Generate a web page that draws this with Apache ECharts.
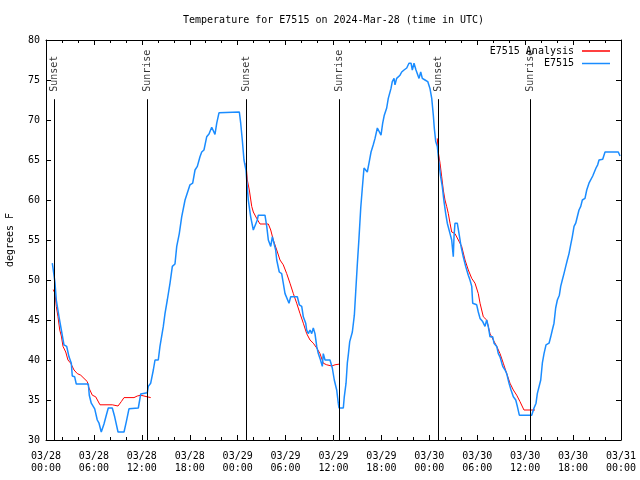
<!DOCTYPE html>
<html>
<head>
<meta charset="utf-8">
<script src="https://cdn.jsdelivr.net/npm/echarts@6/dist/echarts.min.js"></script>
<style>html,body{margin:0;padding:0;background:#fff}#c{width:640px;height:480px}</style>
</head>
<body>
<div id="c"></div>
<script>
// hours since 03/28 00:00 UTC, temperature in degrees F
const xTickLabels = ['03/28\n00:00','03/28\n06:00','03/28\n12:00','03/28\n18:00','03/29\n00:00','03/29\n06:00','03/29\n12:00','03/29\n18:00','03/30\n00:00','03/30\n06:00','03/30\n12:00','03/30\n18:00','03/31\n00:00'];
const sunEvents = [[1.04,'Sunset'],[12.68,'Sunrise'],[25.08,'Sunset'],[36.73,'Sunrise'],[49.12,'Sunset'],[60.64,'Sunrise']];

const observed = [
[0.79,52.1],[1.00,50.6],[1.13,49.6],[1.29,47.5],[1.63,45.4],[1.92,43.75],[2.25,41.9],[2.59,41.7],[2.88,40.4],[3.17,39.6],[3.29,38.0],[3.59,37.9],[3.79,37.0],[5.30,37.0],[5.42,35.6],[5.67,34.6],[6.10,33.9],[6.42,32.5],[6.64,32.1],[6.92,31.0],[7.26,32.0],[7.55,33.1],[7.80,34.0],[8.30,34.0],[8.60,32.9],[9.02,31.0],[9.77,31.0],[10.06,32.3],[10.39,33.9],[10.52,34.0],[11.56,34.0],[11.86,35.75],[12.06,35.9],[12.68,35.9],[12.81,36.7],[13.11,37.1],[13.44,38.75],[13.65,40.0],[14.06,40.0],[14.27,41.7],[14.69,44.2],[14.90,45.8],[15.19,47.5],[15.53,49.6],[15.82,51.7],[16.15,52.0],[16.37,54.2],[16.69,55.8],[16.99,57.9],[17.19,58.1],[17.41,60.0],[17.62,60.2],[18.03,61.9],[18.37,62.1],[18.66,63.75],[18.95,64.2],[19.28,65.4],[19.50,66.0],[19.78,66.25],[20.12,67.9],[20.41,68.25],[20.75,69.1],[20.95,69.0],[21.16,68.2],[21.38,69.6],[21.66,70.9],[21.79,71.0],[24.21,71.0],[24.38,69.6],[24.58,67.5],[24.79,65.0],[25.04,63.75],[25.13,62.5],[25.33,60.0],[25.63,57.9],[25.96,56.25],[26.17,56.1],[26.46,57.5],[26.58,58.1],[27.42,58.1],[27.64,56.7],[27.84,55.0],[28.14,54.2],[28.34,55.4],[28.59,55.2],[28.76,53.75],[28.89,52.5],[29.21,51.0],[29.51,50.8],[29.71,49.6],[29.93,48.3],[30.14,48.5],[30.43,47.1],[30.64,47.9],[31.47,47.9],[31.72,46.9],[32.02,46.7],[32.22,45.4],[32.52,44.6],[32.64,43.75],[32.85,43.3],[33.06,43.75],[33.27,43.3],[33.47,44.0],[33.68,43.3],[33.90,41.7],[34.10,40.8],[34.31,40.2],[34.60,39.2],[34.72,40.8],[34.94,40.0],[35.56,40.0],[35.85,39.0],[36.10,37.5],[36.40,36.25],[36.60,34.6],[36.69,34.0],[37.23,34.0],[37.35,35.4],[37.57,37.1],[37.73,39.6],[37.85,40.6],[38.03,42.3],[38.36,43.5],[38.61,45.6],[38.78,48.5],[38.98,51.9],[39.19,55.2],[39.41,59.0],[39.61,61.5],[39.82,64.0],[40.03,64.2],[40.23,63.5],[40.48,64.8],[40.70,66.0],[40.98,66.9],[41.20,67.7],[41.49,69.0],[41.70,69.2],[41.95,68.1],[42.16,69.6],[42.36,70.6],[42.66,71.5],[42.86,72.7],[43.20,73.95],[43.36,74.8],[43.58,75.2],[43.70,74.4],[43.91,75.2],[44.33,75.6],[44.54,76.0],[44.83,76.25],[45.17,76.5],[45.45,77.1],[45.71,77.1],[45.87,76.25],[46.08,77.1],[46.33,76.25],[46.54,76.0],[46.71,75.2],[46.92,76.0],[47.12,75.2],[47.46,75.0],[47.80,74.8],[48.08,73.95],[48.30,72.7],[48.50,70.6],[48.62,69.0],[48.80,67.3],[49.00,66.7],[49.21,64.6],[49.42,62.9],[49.62,61.7],[49.84,59.8],[50.05,58.3],[50.25,57.1],[50.59,55.8],[50.80,55.0],[51.00,52.9],[51.09,55.4],[51.21,57.1],[51.50,57.1],[51.75,55.6],[51.97,54.2],[52.25,52.9],[52.55,51.7],[52.88,50.6],[53.09,50.0],[53.31,49.2],[53.43,47.1],[53.93,46.9],[54.13,46.0],[54.35,45.2],[54.68,44.8],[54.97,44.2],[55.18,45.0],[55.38,44.2],[55.60,42.9],[55.94,42.9],[56.10,42.1],[56.44,41.7],[56.64,40.8],[56.85,40.4],[57.19,39.2],[57.48,38.75],[57.69,38.3],[57.98,37.1],[58.23,36.25],[58.52,35.4],[58.82,35.0],[59.02,34.2],[59.27,33.1],[60.82,33.1],[61.11,34.0],[61.36,34.6],[61.52,35.8],[61.77,36.0],[61.95,37.5],[62.15,39.6],[62.36,40.8],[62.61,41.9],[62.99,42.1],[63.20,42.9],[63.40,43.75],[63.61,44.6],[63.82,46.5],[64.03,47.5],[64.28,48.1],[64.45,49.2],[64.65,50.0],[64.86,50.8],[65.08,51.7],[65.28,52.5],[65.49,53.3],[65.70,54.4],[65.90,55.4],[66.12,56.7],[66.33,57.1],[66.53,57.9],[66.74,58.75],[66.96,59.2],[67.16,60.0],[67.49,60.2],[67.71,61.25],[67.99,62.1],[68.21,62.2],[68.46,63.0],[68.62,63.1],[68.87,64.0],[69.08,64.4],[69.25,65.0],[69.71,65.1],[70.00,66.0],[71.66,66.0],[71.88,65.5]
];

const analysis1 = [[0.91,48.8],[1.13,48.3],[1.29,46.7],[1.50,45.4],[1.72,43.75],[1.92,43.0],[2.13,41.7],[2.47,41.0],[2.75,40.0],[3.09,39.6],[3.51,38.75],[3.92,38.3],[4.35,38.1],[4.76,37.7],[5.17,37.3],[5.38,36.5],[5.80,35.6],[6.22,35.4],[6.76,34.4],[8.30,34.4],[9.02,34.25],[9.43,34.8],[9.77,35.3],[11.02,35.3],[11.43,35.5],[11.86,35.6],[12.27,35.5],[12.68,35.4],[13.11,35.3]];
const analysis2 = [[25.04,64.6],[25.21,62.5],[25.46,61.25],[25.76,59.2],[25.96,58.5],[26.38,57.7],[26.80,57.0],[27.84,57.0],[28.14,56.25],[28.46,55.0],[28.89,53.75],[29.30,52.5],[29.71,51.9],[30.14,50.8],[30.55,49.6],[30.97,48.3],[31.39,47.1],[31.81,45.8],[32.22,44.6],[32.64,43.3],[33.06,42.5],[33.47,42.1],[33.90,41.5],[34.31,40.8],[34.72,39.6],[35.15,39.4],[35.78,39.25],[36.19,39.4],[36.81,39.5]];
const analysis3 = [[49.00,67.7],[49.12,66.0],[49.34,64.6],[49.55,62.9],[49.75,61.25],[49.96,60.0],[50.17,59.2],[50.38,58.3],[50.59,57.1],[50.80,56.0],[51.21,55.8],[51.63,55.0],[52.05,54.2],[52.47,52.5],[52.88,51.25],[53.31,50.2],[53.72,49.6],[54.13,48.3],[54.35,47.1],[54.76,45.4],[55.18,45.0],[55.60,43.3],[56.01,42.5],[56.44,41.7],[56.85,40.8],[57.26,39.6],[57.69,38.3],[58.10,37.1],[58.52,36.25],[58.94,35.6],[59.35,34.8],[59.85,33.75],[61.23,33.75]];

const FONT = 'DejaVu Sans Mono';
const SUN_LINE_TOP = 72.6;
const SUN_LABEL_Y = 73.4;

const analysis = [].concat(analysis1, ['-'], analysis2, ['-'], analysis3);

const chart = echarts.init(document.getElementById('c'), null, {renderer: 'canvas'});
const axisCommon = {
  type: 'value', min: 0, max: 72, interval: 6,
  axisLine: {show: true, onZero: false, lineStyle: {color: '#000', width: 1}},
  axisTick: {show: true, inside: true, length: 5, lineStyle: {color: '#000'}},
  minorTick: {show: true, splitNumber: 3, length: 3, lineStyle: {color: '#000'}},
  splitLine: {show: false}
};
const yCommon = {
  type: 'value', min: 30, max: 80, interval: 5,
  axisLine: {show: true, onZero: false, lineStyle: {color: '#000', width: 1}},
  axisTick: {show: true, inside: true, length: 5, lineStyle: {color: '#000'}},
  splitLine: {show: false}
};
chart.setOption({
  animation: false,
  backgroundColor: '#fff',
  textStyle: {fontFamily: FONT, fontSize: 10, color: '#000'},
  title: {
    text: 'Temperature for E7515 on 2024-Mar-28 (time in UTC)',
    left: 178, top: 10,
    textStyle: {fontFamily: FONT, fontSize: 10, fontWeight: 'normal', color: '#000'}
  },
  legend: {
    data: ['E7515 Analysis', 'E7515'],
    orient: 'vertical', right: 25, top: 41, align: 'right',
    icon: 'rect', itemWidth: 28, itemHeight: 1.5, itemGap: 2.5,
    textStyle: {fontFamily: FONT, fontSize: 10, color: '#000', padding: [0, 3, 0, 0]}
  },
  grid: {left: 46, right: 19, top: 40, bottom: 40, containLabel: false, outerBoundsMode: 'none'},
  xAxis: [
    Object.assign({}, axisCommon, {
      position: 'bottom',
      axisLabel: {
        show: true, margin: 10, lineHeight: 12, fontFamily: FONT, fontSize: 10, color: '#000',
        showMinLabel: true, showMaxLabel: true,
        formatter: v => xTickLabels[Math.round(v / 6)]
      }
    }),
    Object.assign({}, axisCommon, {position: 'top', axisLabel: {show: false}})
  ],
  yAxis: [
    Object.assign({}, yCommon, {
      position: 'left',
      name: 'degrees F', nameLocation: 'middle', nameGap: 31, nameRotate: 90,
      nameTextStyle: {fontFamily: FONT, fontSize: 10, color: '#000'},
      axisLabel: {show: true, margin: 6, fontFamily: FONT, fontSize: 10, color: '#000'}
    }),
    Object.assign({}, yCommon, {position: 'right', axisLabel: {show: false}})
  ],
  series: [
    {
      type: 'scatter', name: 'sun', xAxisIndex: 0, yAxisIndex: 0,
      symbolSize: 0, silent: true, z: 1,
      data: sunEvents.map(e => [e[0], SUN_LABEL_Y, e[1]]),
      label: {
        show: true, position: 'inside', rotate: 90, align: 'left', verticalAlign: 'middle',
        offset: [1, 0],
        fontFamily: FONT, fontSize: 10, color: '#000',
        formatter: p => p.data[2]
      },
      markLine: {
        silent: true, symbol: ['none', 'none'], animation: false,
        label: {show: false},
        lineStyle: {color: '#000', width: 1, type: 'solid'},
        emphasis: {disabled: true},
        data: sunEvents.map(e => [{coord: [e[0], 30]}, {coord: [e[0], SUN_LINE_TOP]}])
      }
    },
    {
      type: 'line', name: 'E7515 Analysis', data: analysis, showSymbol: false, symbol: 'none',
      connectNulls: false, z: 2,
      lineStyle: {color: '#ff0000', width: 1}, itemStyle: {color: '#ff0000'}
    },
    {
      type: 'line', name: 'E7515', data: observed, showSymbol: false, symbol: 'none', z: 3,
      lineStyle: {color: '#1a8cff', width: 1.5}, itemStyle: {color: '#1a8cff'}
    }
  ]
});
</script>
</body>
</html>
